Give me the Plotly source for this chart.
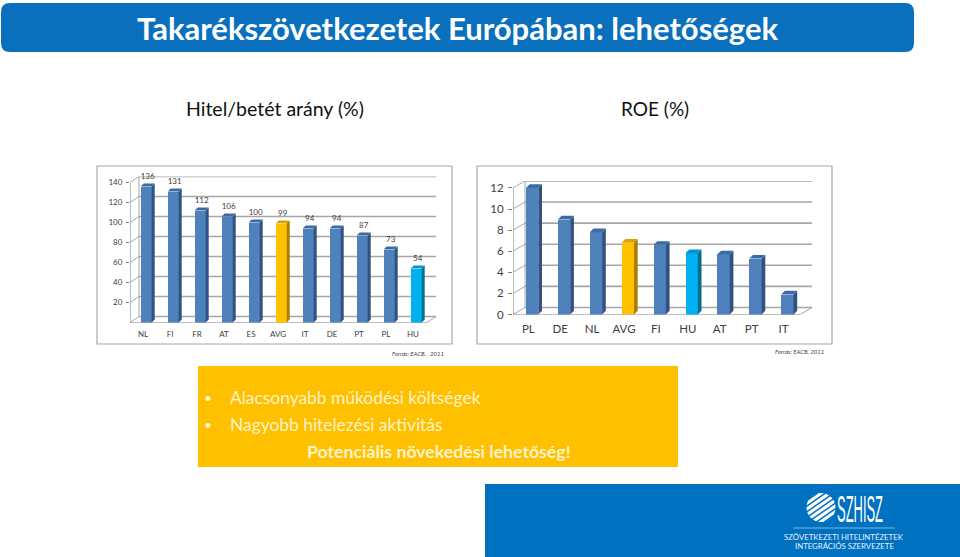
import math
import plotly.graph_objects as go

W, H = 960, 557

# ---- data ----
loan_categories = ["NL", "FI", "FR", "AT", "ES", "AVG", "IT", "DE", "PT", "PL", "HU"]
loan_values = [136, 131, 112, 106, 100, 99, 94, 94, 87, 73, 54]
loan_ticks = [20, 40, 60, 80, 100, 120, 140]

roe_categories = ["PL", "DE", "NL", "AVG", "FI", "HU", "AT", "PT", "IT"]
roe_values = [12.0, 9.0, 7.8, 6.8, 6.6, 5.8, 5.7, 5.3, 1.9]
roe_ticks = [0, 2, 4, 6, 8, 10, 12]

title_text = "Takarékszövetkezetek Európában: lehetőségek"
left_heading = "Hitel/betét arány (%)"
right_heading = "ROE (%)"
left_source = "Forrás: EACB, . 2011"
right_source = "Forrás: EACB, 2011"
bullets = ["Alacsonyabb működési költségek", "Nagyobb hitelezési aktivitás"]
conclusion = "Potenciális növekedési lehetőség!"
logo_name = "SZHISZ"
logo_lines = ["SZÖVETKEZETI HITELINTÉZETEK", "INTEGRÁCIÓS SZERVEZETE"]

FRONT = {"default": "#4F81BD", "AVG": "#FFC000", "HU": "#00B0F0"}
SIDE = {"default": "#2F5280", "AVG": "#A88000", "HU": "#00708F"}
TOP = {"default": "#3A6BA5", "AVG": "#D9A300", "HU": "#0095CC"}
GRID = "#A6A6A6"
TEXT = "#404040"
FONT = "Lato, Carlito, Calibri, sans-serif"

fig = go.Figure()
shapes, annotations = [], []


def px(x):
    return x / W


def py(y):
    return 1 - y / H


def rect(x0, y0, x1, y1, fill=None, line=None, lw=1):
    shapes.append(dict(type="rect", xref="paper", yref="paper", x0=px(x0), x1=px(x1), y0=py(y0), y1=py(y1),
                       fillcolor=fill or "rgba(0,0,0,0)", line=dict(color=line or "rgba(0,0,0,0)", width=lw), layer="below"))


def note(x, y, text, size, color, bold=False, italic=False, anchor="center"):
    if bold:
        text = f"<b>{text}</b>"
    if italic:
        text = f"<i>{text}</i>"
    annotations.append(dict(xref="paper", yref="paper", x=px(x), y=py(y), text=text, showarrow=False,
                            xanchor=anchor, yanchor="middle", font=dict(family=FONT, size=size, color=color)))


def chart(cats, vals, ticks, suffix, x_left, cat0, cat_w, y0, unit, dxp, dyp, bar_w, bar_off, depth, label_size,
          standoff, show_vals, ticklen):
    xa = "x" + suffix
    ya = "y" + suffix
    dx, dy = dxp / cat_w, dyp / unit
    xmin = (x_left - cat0) / cat_w
    xfront = xmin + len(cats)
    xmax = xfront + dx
    ymax = max(ticks) + dy
    ddx, ddy = depth / cat_w, depth / unit
    off = bar_off / cat_w
    w = bar_w / cat_w
    xs = list(range(len(cats)))
    colors = [FRONT.get(c, FRONT["default"]) for c in cats]
    fig.add_trace(go.Bar(x=xs, y=vals, width=w, offset=off, marker=dict(color=colors, line=dict(width=0)),
                         xaxis=xa, yaxis=ya, showlegend=False, hoverinfo="skip"))
    for i, (c, v) in enumerate(zip(cats, vals)):
        l, r = i + off, i + off + w
        fig.add_trace(go.Scatter(x=[r, r + ddx, r + ddx, r, r], y=[0, ddy, v + ddy, v, 0], mode="lines", fill="toself",
                                 fillcolor=SIDE.get(c, SIDE["default"]), line=dict(width=0), xaxis=xa, yaxis=ya,
                                 showlegend=False, hoverinfo="skip"))
        fig.add_trace(go.Scatter(x=[l, l + ddx, r + ddx, r, l], y=[v, v + ddy, v + ddy, v, v], mode="lines", fill="toself",
                                 fillcolor=TOP.get(c, TOP["default"]), line=dict(width=0), xaxis=xa, yaxis=ya,
                                 showlegend=False, hoverinfo="skip"))
    if show_vals:
        fig.add_trace(go.Scatter(x=[i + off + w / 2 + ddx / 2 for i in xs], y=[v + 9.5 * 1 / unit for v in vals],
                                 mode="text", text=[str(v) for v in vals], textposition="middle center",
                                 textfont=dict(family=FONT, size=label_size, color=TEXT), cliponaxis=False,
                                 xaxis=xa, yaxis=ya, showlegend=False, hoverinfo="skip"))
    # wall and floor, derived from the axis ticks
    all_levels = sorted(set([0] + list(ticks)))

    def seg(x0, y0_, x1, y1_, width=1.2, color=GRID):
        shapes.append(dict(type="line", xref=xa, yref=ya, x0=x0, y0=y0_, x1=x1, y1=y1_,
                           line=dict(color=color, width=width), layer="below"))
    for t in all_levels:
        seg(xmin + dx, t + dy, xmax, t + dy, 1.6)
        seg(xmin, t, xmin + dx, t + dy, 1)
    seg(xmin, 0, xmin, max(ticks), 1, "#808080")
    seg(xmin + dx, dy, xmin + dx, max(ticks) + dy, 1)
    seg(xmin, 0, xfront, 0, 1, "#808080")
    seg(xfront, 0, xmax, dy, 1)
    for i in range(len(cats) + 1):
        shapes.append(dict(type="line", xref=xa, yref=ya, x0=xmin + i, x1=xmin + i, y0=0, y1=-3 / unit,
                           line=dict(color="#808080", width=1), layer="below"))
    dom_x = [px(x_left), px(x_left + (xmax - xmin) * cat_w)]
    dom_y = [py(y0), py(y0 - ymax * unit)]
    axis_font = dict(family=FONT, size=label_size, color=TEXT)
    fig.update_layout({
        ("xaxis" + suffix): dict(domain=dom_x, range=[xmin, xmax], anchor=ya, tickmode="array", tickvals=xs, ticktext=cats,
                                 showgrid=False, zeroline=False, showline=False, ticks="", tickfont=axis_font,
                                 ticklabelstandoff=standoff, fixedrange=True),
        ("yaxis" + suffix): dict(domain=dom_y, range=[0, ymax], anchor=xa, tickmode="array", tickvals=ticks,
                                 showgrid=False, zeroline=False, showline=False, ticks="outside", ticklen=ticklen,
                                 tickcolor="#808080", tickfont=axis_font, ticklabelstandoff=2, fixedrange=True),
    })


# ---- page furniture ----
r = 9
x0, x1, y0, y1 = px(1), px(914), py(3), py(52)
rx, ry = r / W, r / H
shapes.append(dict(type="path", xref="paper", yref="paper", layer="below", fillcolor="#0A70BD", line=dict(width=0),
                   path=f"M {x0 + rx} {y0} L {x1 - rx} {y0} Q {x1} {y0} {x1} {y0 - ry} L {x1} {y1 + ry} Q {x1} {y1} {x1 - rx} {y1} "
                        f"L {x0 + rx} {y1} Q {x0} {y1} {x0} {y1 + ry} L {x0} {y0 - ry} Q {x0} {y0} {x0 + rx} {y0} Z"))
note(457, 27.5, title_text, 31, "#FFFFFF", bold=True)
note(275, 108.5, left_heading, 19.5, "#111111")
note(655, 108.5, right_heading, 19, "#111111")

rect(97, 166, 452, 344, "#FFFFFF", "#A8A8A8", 1.2)
rect(477, 166, 832, 344, "#FFFFFF", "#A8A8A8", 1.2)
note(446, 353, left_source, 6, "#404040", italic=True, anchor="right")
note(826, 351.5, right_source, 6, "#404040", italic=True, anchor="right")

rect(198, 366, 678, 467, "#FFC000")
for y, b in zip([397.5, 424.5], bullets):
    note(208, y, "•", 14, "#FFF3C9")
    note(228, y, b, 17.4, "#FFF3C9", anchor="left")
note(438.5, 451.5, conclusion, 17.7, "#FFF3C9", bold=True)

rect(485, 484, 960, 557, "#0070C0")
# logo: striped disc
cx, cy, rad = 821, 507.5, 14.5
shapes.append(dict(type="circle", xref="paper", yref="paper", x0=px(cx - rad), x1=px(cx + rad), y0=py(cy - rad), y1=py(cy + rad),
                   fillcolor="#FFFFFF", line=dict(width=0), layer="below"))
for k in range(-3, 4):
    o = k * 4.6
    half = math.sqrt(max(rad ** 2 - o ** 2, 0)) + 1
    ux, uy = math.cos(math.radians(-35)), math.sin(math.radians(-35))
    nx, ny = -uy, ux
    sx, sy = cx + nx * o, cy + ny * o
    shapes.append(dict(type="line", xref="paper", yref="paper", layer="below",
                       x0=px(sx - ux * half), y0=py(sy - uy * half), x1=px(sx + ux * half), y1=py(sy + uy * half),
                       line=dict(color="#0070C0", width=1.5)))
annotations.append(dict(xref="paper", yref="paper", x=px(860), y=py(509), text=logo_name, showarrow=False, xanchor="center", yanchor="middle",
                        font=dict(family="Liberation Sans", size=36, color="#FFFFFF")))
shapes.append(dict(type="line", xref="paper", yref="paper", layer="below", x0=px(793), x1=px(895), y0=py(528), y1=py(528),
                   line=dict(color="#7FB7DF", width=1)))
note(844, 537, logo_lines[0], 7.8, "#E8F2FA")
note(844, 546, logo_lines[1], 7.8, "#E8F2FA")

# ---- charts ----
chart(loan_categories, loan_values, loan_ticks, "", 130, 143, 27, 322.5, 1.0, 9, 6, 11, -2.3, 3, 8, 5, True, 3)
chart(roe_categories, roe_values, roe_ticks, "2", 513, 528.3, 31.9, 314.5, 10.55, 12, 7, 12.3, -2.3, 3.7, 11.5, 6, False, 4)

fig.update_layout(width=W, height=H, margin=dict(l=0, r=0, t=0, b=0, autoexpand=False), paper_bgcolor="#FFFFFF", plot_bgcolor="rgba(0,0,0,0)",
                  bargap=0, showlegend=False, shapes=shapes, annotations=annotations, font=dict(family=FONT))
fig.write_html("out.html", config=dict(displayModeBar=False),
               post_script="document.body.style.margin='0';document.documentElement.style.overflow='hidden';"
                           "document.querySelectorAll('.annotation-text').forEach(function(t){"
                           "if(t.textContent==='SZHISZ'){t.setAttribute('textLength','46');t.setAttribute('lengthAdjust','spacingAndGlyphs');}});")
